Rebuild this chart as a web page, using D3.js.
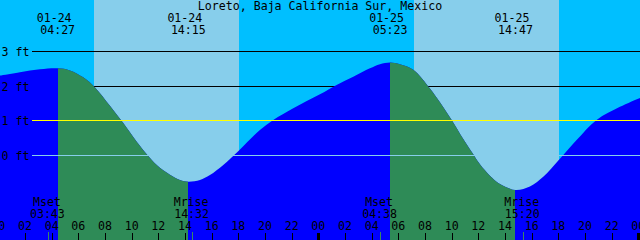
<!DOCTYPE html>
<html><head><meta charset="utf-8">
<script src="https://cdn.jsdelivr.net/npm/d3@7"></script>
<style>
body{margin:0;overflow:hidden;background:#fff}
svg{display:block}
text{font-family:"DejaVu Sans Mono",monospace;font-size:11.6px;fill:#000}
</style>
</head><body><svg id="c" width="640" height="240"></svg>
<script>
// ---- data (hours counted from 01-24 00:00) ----
const title = "Loreto, Baja California Sur, Mexico";
const tideHours = [0.10, 1.62, 3.12, 4.45, 5.37, 6.37, 7.25, 8.37, 9.37, 10.38, 11.13, 11.88, 12.87, 13.62, 14.25, 15.12, 15.87, 16.87, 17.75, 19.62, 20.62, 22.12, 24.12, 25.37, 26.62, 27.87, 28.62, 29.38, 30.12, 31.12, 32.37, 33.12, 34.00, 34.87, 35.62, 36.12, 36.87, 37.62, 38.78, 39.87, 40.87, 42.05, 43.37, 44.87, 46.62, 48.15];
const tideFeet  = [2.29, 2.39, 2.47, 2.50, 2.44, 2.24, 1.95, 1.42, 0.92, 0.38, 0.02, -0.29, -0.57, -0.72, -0.77, -0.72, -0.58, -0.29, 0.02, 0.72, 1.01, 1.35, 1.75, 2.02, 2.26, 2.50, 2.62, 2.67, 2.62, 2.46, 1.92, 1.52, 1.01, 0.46, 0.02, -0.27, -0.60, -0.84, -1.01, -0.91, -0.63, -0.14, 0.43, 1.01, 1.39, 1.65];
const extremeDayOffset = [0, 0, 24, 24];
const extremeDates = ["01-24", "01-24", "01-25", "01-25"];
const extremeTimes = ["04:27", "14:15", "05:23", "14:47"];
const extremeTypes = ["high", "low", "high", "low"];
const sunDayOffset = [0, 24];
const sunrises = ["07:10", "07:11"];
const sunsets  = ["18:03", "18:03"];
const moonDayOffset = [0, 0, 24, 24];
const moonNames = ["Mset", "Mrise", "Mset", "Mrise"];
const moonTimes = ["03:43", "14:32", "04:38", "15:20"];
const feetTicks = [0, 1, 2, 3];
const feetLabels = ["0 ft", "1 ft", "2 ft", "3 ft"];
const hourTicks = [0,2,4,6,8,10,12,14,16,18,20,22,24,26,28,30,32,34,36,38,40,42,44,46,48];
const hourLabels = ["00","02","04","06","08","10","12","14","16","18","20","22","00","02","04","06","08","10","12","14","16","18","20","22","00"];
const startHour = 0.125; // 00:07:30

// ---- helpers ----
const hm = (s, off) => { const [h, m] = s.split(":").map(Number); return off + h + m / 60; };
const W = 640, H = 240;
const x = d3.scaleLinear().domain([startHour, startHour + 48]).range([0, W]);
const y = d3.scaleLinear().domain([0, 3]).range([155, 51]);
const svg = d3.select("#c");

// background: night + day bands
svg.append("rect").attr("width", W).attr("height", H).attr("fill", "#00BFFF");
svg.selectAll("rect.day").data(sunDayOffset).join("rect").attr("class", "day")
  .attr("x", (d, i) => Math.round(x(hm(sunrises[i], d))))
  .attr("width", (d, i) => Math.round(x(hm(sunsets[i], d))) - Math.round(x(hm(sunrises[i], d))))
  .attr("y", 0).attr("height", H).attr("fill", "#87CEEB").attr("shape-rendering", "crispEdges");

// black grid lines (behind the water)
svg.selectAll("line.grid").data(feetTicks.filter(f => f >= 2)).join("line").attr("class", "grid")
  .attr("x1", 32).attr("x2", W)
  .attr("y1", d => Math.round(y(d)) + 0.5).attr("y2", d => Math.round(y(d)) + 0.5)
  .attr("stroke", "#000").attr("stroke-width", 1).attr("shape-rendering", "crispEdges");

// tide area
const pts = tideHours.map((t, i) => [t, tideFeet[i]]);
const area = d3.area().x(d => x(d[0])).y0(H).y1(d => y(d[1])).curve(d3.curveCatmullRom.alpha(0.5));
svg.append("path").datum(pts).attr("d", area).attr("fill", "#0000FF");

// falling-tide (green) parts: from each high to next low
const defs = svg.append("defs");
const clip = defs.append("clipPath").attr("id", "fall");
extremeTypes.forEach((tp, i) => {
  if (tp === "high" && i + 1 < extremeTypes.length) {
    const a = Math.round(x(hm(extremeTimes[i], extremeDayOffset[i])));
    const b = Math.round(x(hm(extremeTimes[i + 1], extremeDayOffset[i + 1])));
    clip.append("rect").attr("x", a).attr("y", 0).attr("width", b - a).attr("height", H);
  }
});
svg.append("path").datum(pts).attr("d", area).attr("fill", "#2E8B57").attr("clip-path", "url(#fall)");

// MSL (yellow) and datum lines over the water
svg.append("line").attr("x1", 32).attr("x2", W)
  .attr("y1", Math.round(y(1)) + 0.5).attr("y2", Math.round(y(1)) + 0.5)
  .attr("stroke", "#FFFF00").attr("shape-rendering", "crispEdges");
svg.append("line").attr("x1", 32).attr("x2", W)
  .attr("y1", Math.round(y(0)) + 0.5).attr("y2", Math.round(y(0)) + 0.5)
  .attr("stroke", "#87CEEB").attr("shape-rendering", "crispEdges");

// feet labels
svg.selectAll("text.ft").data(feetTicks).join("text").attr("class", "ft")
  .attr("x", 1.5).attr("y", d => Math.round(y(d)) + 4.5).text((d, i) => feetLabels[i]);

// title
svg.append("text").attr("x", 320).attr("y", 10).attr("text-anchor", "middle").text(title);

// tide extreme labels
extremeTimes.forEach((s, i) => {
  const xx = x(hm(s, extremeDayOffset[i]));
  svg.append("text").attr("x", xx - 3.5).attr("y", 22).attr("text-anchor", "middle").text(extremeDates[i]);
  svg.append("text").attr("x", xx).attr("y", 34).attr("text-anchor", "middle").text(s);
});

// hour ticks
svg.selectAll("rect.tick").data(hourTicks).join("rect").attr("class", "tick")
  .attr("x", d => Math.round(x(d)) - (d % 24 === 0 ? 1 : 0))
  .attr("width", d => d % 24 === 0 ? 3 : 1)
  .attr("y", 233).attr("height", 7).attr("fill", "#000").attr("shape-rendering", "crispEdges");
svg.selectAll("text.hr").data(hourTicks).join("text").attr("class", "hr")
  .attr("x", d => x(d)).attr("y", 230).attr("text-anchor", "middle").text((d, i) => hourLabels[i]);

// moon events
moonTimes.forEach((s, i) => {
  const xx = x(hm(s, moonDayOffset[i]));
  svg.append("rect").attr("x", Math.round(xx)).attr("width", 1).attr("y", 232).attr("height", 8)
    .attr("fill", "#3a8a60").attr("shape-rendering", "crispEdges");
  svg.append("text").attr("x", xx - 1).attr("y", 206).attr("text-anchor", "middle").text(moonNames[i]);
  svg.append("text").attr("x", xx - 0.5).attr("y", 218).attr("text-anchor", "middle").text(s);
});
</script>
</body></html>
